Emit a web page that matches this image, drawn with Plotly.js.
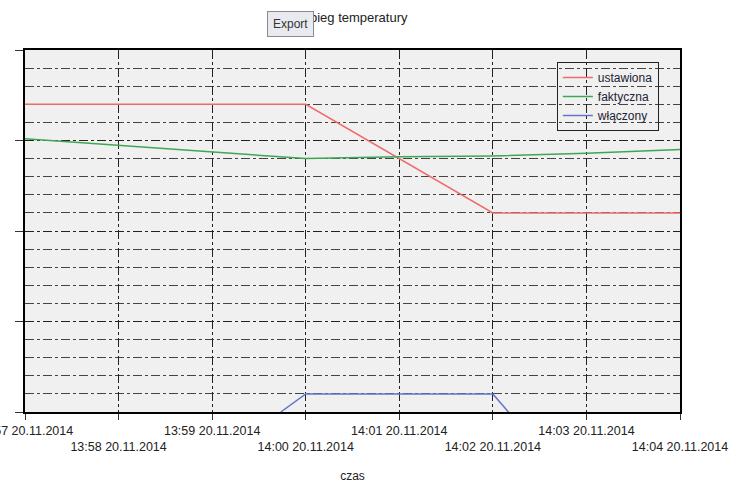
<!DOCTYPE html>
<html>
<head>
<meta charset="utf-8">
<script src="https://cdn.plot.ly/plotly-3.0.1.min.js"></script>
<style>html,body{margin:0;padding:0;background:#fff;}#chart{width:738px;height:486px;}</style>
</head>
<body>
<div id="chart"></div>
<script>
// Data
const setTimes = ["2014-11-20 13:57:00", "2014-11-20 14:00:00", "2014-11-20 14:02:00", "2014-11-20 14:04:00"];
const setValues = [17, 17, 11, 11];

const actualTimes = ["2014-11-20 13:57:00", "2014-11-20 14:00:00", "2014-11-20 14:01:00", "2014-11-20 14:02:00", "2014-11-20 14:03:00", "2014-11-20 14:04:00"];
const actualValues = [15.1, 14.0, 14.1, 14.15, 14.3, 14.5];

const onTimes = ["2014-11-20 13:59:44", "2014-11-20 14:00:00", "2014-11-20 14:02:00", "2014-11-20 14:02:10"];
const onValues = [0, 1, 1, 0];

const tickTimes = ["2014-11-20 13:57:00", "2014-11-20 13:58:00", "2014-11-20 13:59:00", "2014-11-20 14:00:00",
                   "2014-11-20 14:01:00", "2014-11-20 14:02:00", "2014-11-20 14:03:00", "2014-11-20 14:04:00"];
const tickLabels = ["13:57 20.11.2014", "13:58 20.11.2014", "13:59 20.11.2014", "14:00 20.11.2014",
                    "14:01 20.11.2014", "14:02 20.11.2014", "14:03 20.11.2014", "14:04 20.11.2014"];

const seriesNames = ["ustawiona", "faktyczna", "włączony"];

// staggered labels: every second label on a second row
const tickText = tickLabels.map((t, i) => (i % 2 === 1 ? "<br>" + t : t));

const traces = [
  {x: setTimes, y: setValues, name: seriesNames[0], type: "scatter", mode: "lines",
   line: {color: "#ef6b6b", width: 1.5}},
  {x: actualTimes, y: actualValues, name: seriesNames[1], type: "scatter", mode: "lines",
   line: {color: "#3fa654", width: 1.5}},
  {x: onTimes, y: onValues, name: seriesNames[2], type: "scatter", mode: "lines",
   line: {color: "#6474c8", width: 1.5}}
];

const layout = {
  width: 738, height: 486,
  margin: {l: 25, r: 58, t: 50, b: 74},
  paper_bgcolor: "#ffffff",
  plot_bgcolor: "#f0f0f0",
  font: {family: "Liberation Sans, Arial, sans-serif", size: 12, color: "#222"},
  title: {text: "Przebieg temperatury", x: 0.468, xanchor: "center", y: 0.965, yanchor: "middle",
          font: {size: 13, color: "#222"}},
  showlegend: true,
  legend: {x: 0.812, y: 0.967, xanchor: "left", yanchor: "top",
           bgcolor: "rgba(0,0,0,0)", bordercolor: "#222", borderwidth: 1,
           font: {size: 12, color: "#223"}, tracegroupgap: 0, itemwidth: 30},
  xaxis: {
    type: "date",
    range: [tickTimes[0], tickTimes[tickTimes.length - 1]],
    tickmode: "array", tickvals: tickTimes, ticktext: tickText,
    tickangle: 0, ticklabeloverflow: "allow",
    showgrid: true, gridcolor: "#222", griddash: "dashdot", gridwidth: 1,
    showline: true, linecolor: "#000", linewidth: 2, mirror: true,
    ticks: "outside", ticklen: 6, tickcolor: "#333",
    tickfont: {size: 12.5, color: "#222"},
    zeroline: false,
    title: {text: "czas", font: {size: 12, color: "#222"}, standoff: 18}
  },
  yaxis: {
    range: [0, 20], dtick: 5, tick0: 0,
    showticklabels: false,
    showgrid: true, gridcolor: "#222", griddash: "dashdot", gridwidth: 1,
    minor: {dtick: 1, showgrid: true, gridcolor: "#444", griddash: "dashdot", gridwidth: 1},
    showline: true, linecolor: "#000", linewidth: 2, mirror: true,
    ticks: "outside", ticklen: 8, tickcolor: "#333",
    zeroline: false
  },
  annotations: [{
    text: "Export", xref: "paper", yref: "paper", x: 0.406, y: 1.072,
    xanchor: "center", yanchor: "middle", showarrow: false,
    bgcolor: "#e9eaf0", bordercolor: "#8a8a90", borderwidth: 1, borderpad: 5,
    font: {size: 12, color: "#333"}
  }]
};

Plotly.newPlot("chart", traces, layout, {displayModeBar: false, staticPlot: true});
</script>
</body>
</html>
